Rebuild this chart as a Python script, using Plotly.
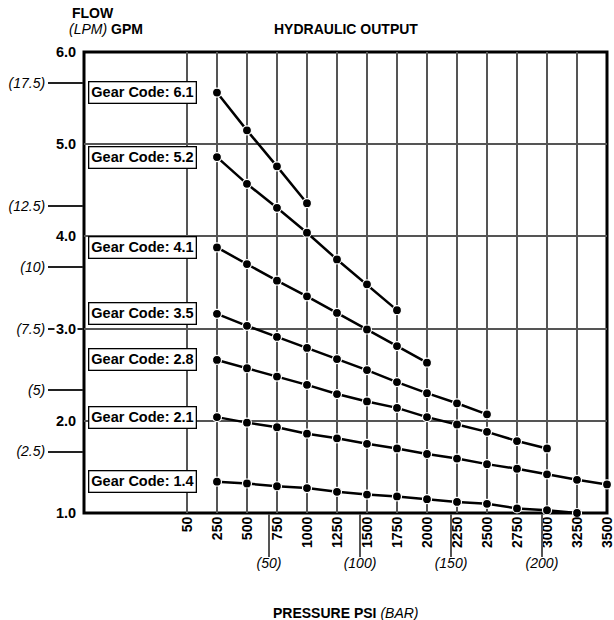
import plotly.graph_objects as go

# pressure axis: the "50" tick sits one step left of 250
psi_tick_labels = ["50", "250", "500", "750", "1000", "1250", "1500", "1750",
                   "2000", "2250", "2500", "2750", "3000", "3250", "3500"]
psi_tick_vals = [0, 250, 500, 750, 1000, 1250, 1500, 1750,
                 2000, 2250, 2500, 2750, 3000, 3250, 3500]
pressures = psi_tick_vals[1:]

bar_labels = ["(50)", "(100)", "(150)", "(200)"]
bar_psi = [683, 1442, 2200, 2958]

gpm_ticks = [1.0, 2.0, 3.0, 4.0, 5.0, 6.0]
lpm_ticks = [2.5, 5, 7.5, 10, 12.5, 17.5]
lpm_labels = ["(2.5)", "(5)", "(7.5)", "(10)", "(12.5)", "(17.5)"]

gear_codes = ["6.1", "5.2", "4.1", "3.5", "2.8", "2.1", "1.4"]
flow_61 = [5.56, 5.15, 4.76, 4.36]
flow_52 = [4.86, 4.57, 4.31, 4.04, 3.75, 3.48, 3.20]
flow_41 = [3.88, 3.70, 3.52, 3.35, 3.17, 2.99, 2.81, 2.63]
flow_35 = [3.16, 3.03, 2.91, 2.79, 2.67, 2.55, 2.42, 2.30, 2.19, 2.07]
flow_28 = [2.66, 2.57, 2.48, 2.39, 2.29, 2.21, 2.14, 2.04, 1.96, 1.88, 1.78, 1.70]
flow_21 = [2.04, 1.98, 1.93, 1.86, 1.81, 1.75, 1.70, 1.64, 1.59, 1.53, 1.48,
           1.42, 1.36, 1.31]
flow_14 = [1.34, 1.32, 1.29, 1.27, 1.23, 1.20, 1.18, 1.15, 1.12, 1.10, 1.05,
           1.03, 1.00, 0.98]
flows = [flow_61, flow_52, flow_41, flow_35, flow_28, flow_21, flow_14]

FONT = "Liberation Sans, Arial, sans-serif"
GRID = "#555555"

fig = go.Figure()

for code, flow in zip(gear_codes, flows):
    fig.add_trace(go.Scatter(
        x=pressures[:len(flow)],
        y=flow,
        mode="lines+markers",
        line=dict(color="black", width=2.5),
        marker=dict(color="black", size=9, line=dict(color="white", width=1.2)),
        cliponaxis=False,
        showlegend=False,
        name="Gear Code: " + code,
    ))
    fig.add_annotation(
        x=0, xref="paper", xanchor="left", xshift=4,
        y=flow[0], yref="y", yanchor="middle",
        text="<b>Gear Code: " + code + "</b>",
        showarrow=False, bgcolor="white",
        bordercolor="black", borderwidth=1.3, borderpad=2,
        font=dict(family=FONT, size=14.5, color="black"),
    )

# GPM labels with white background so the LPM tick lines pass behind them
for v in gpm_ticks:
    fig.add_annotation(
        x=0, xref="paper", xanchor="right", xshift=-6,
        y=v, yref="y", yanchor="middle",
        text="<b>%.1f</b>" % v, showarrow=False,
        bgcolor="white", borderpad=1,
        font=dict(family=FONT, size=14.5, color="black"),
    )

# invisible trace so the secondary axes get drawn
fig.add_trace(go.Scatter(x=[None], y=[None], xaxis="x2", yaxis="y2",
                         showlegend=False, hoverinfo="skip"))

# heavy frame round the plot area
fig.add_shape(type="rect", xref="paper", yref="paper", x0=0, x1=1, y0=0, y1=1,
              line=dict(color="black", width=3), layer="between")

fig.update_layout(
    width=614,
    height=620,
    margin=dict(l=84, r=7, t=52, b=107),
    paper_bgcolor="white",
    plot_bgcolor="white",
    font=dict(family=FONT, size=14, color="black"),
    xaxis=dict(
        range=[-858, 3500],
        tickvals=psi_tick_vals,
        ticktext=psi_tick_labels,
        tickangle=-90,
        tickfont=dict(family=FONT, size=14, weight="bold"),
        ticklabeloverflow="allow",
        ticks="",
        showgrid=True, gridcolor=GRID, gridwidth=1.5,
        zeroline=False, showline=False,
        automargin=False,
    ),
    xaxis2=dict(
        overlaying="x", anchor="y", side="bottom",
        range=[-858, 3500],
        tickvals=bar_psi,
        ticktext=bar_labels,
        tickfont=dict(family=FONT, size=14, style="italic"),
        ticks="outside", ticklen=43, tickwidth=1.5, tickcolor=GRID,
        ticklabelstandoff=-6,
        showgrid=False, zeroline=False, showline=False,
        automargin=False,
    ),
    yaxis=dict(
        range=[1, 6],
        tickvals=gpm_ticks,
        showticklabels=False,
        ticks="",
        showgrid=True, gridcolor=GRID, gridwidth=1.5,
        zeroline=False, showline=False,
        automargin=False,
    ),
    yaxis2=dict(
        overlaying="y", anchor="x", side="left",
        range=[0, 18.75],
        tickvals=lpm_ticks,
        ticktext=lpm_labels,
        tickfont=dict(family=FONT, size=14, style="italic"),
        ticks="outside", ticklen=35, tickwidth=1.5, tickcolor="#222222",
        showgrid=False, zeroline=False, showline=False,
        automargin=False,
    ),
)

fig.add_annotation(x=0.5, xref="paper", y=1, yref="paper", yshift=23,
                   yanchor="middle", showarrow=False,
                   text="<b>HYDRAULIC OUTPUT</b>")
fig.add_annotation(x=0, xref="paper", xshift=-14, y=1, yref="paper", yshift=39,
                   yanchor="middle", showarrow=False, text="<b>FLOW</b>")
fig.add_annotation(x=0, xref="paper", xshift=-17, y=1, yref="paper", yshift=23,
                   yanchor="middle", showarrow=False,
                   text="<i>(LPM)</i> <b>GPM</b>")
fig.add_annotation(x=0.5, xref="paper", y=0, yref="paper", yshift=-100,
                   yanchor="middle", showarrow=False,
                   text="<b>PRESSURE PSI</b> <i>(BAR)</i>")

# drop the page's default body margin so the figure fills the window exactly
fig.write_html("out.html",
               config={"displayModeBar": False},
               post_script="document.body.style.margin='0';"
                           "document.body.style.overflow='hidden';")
